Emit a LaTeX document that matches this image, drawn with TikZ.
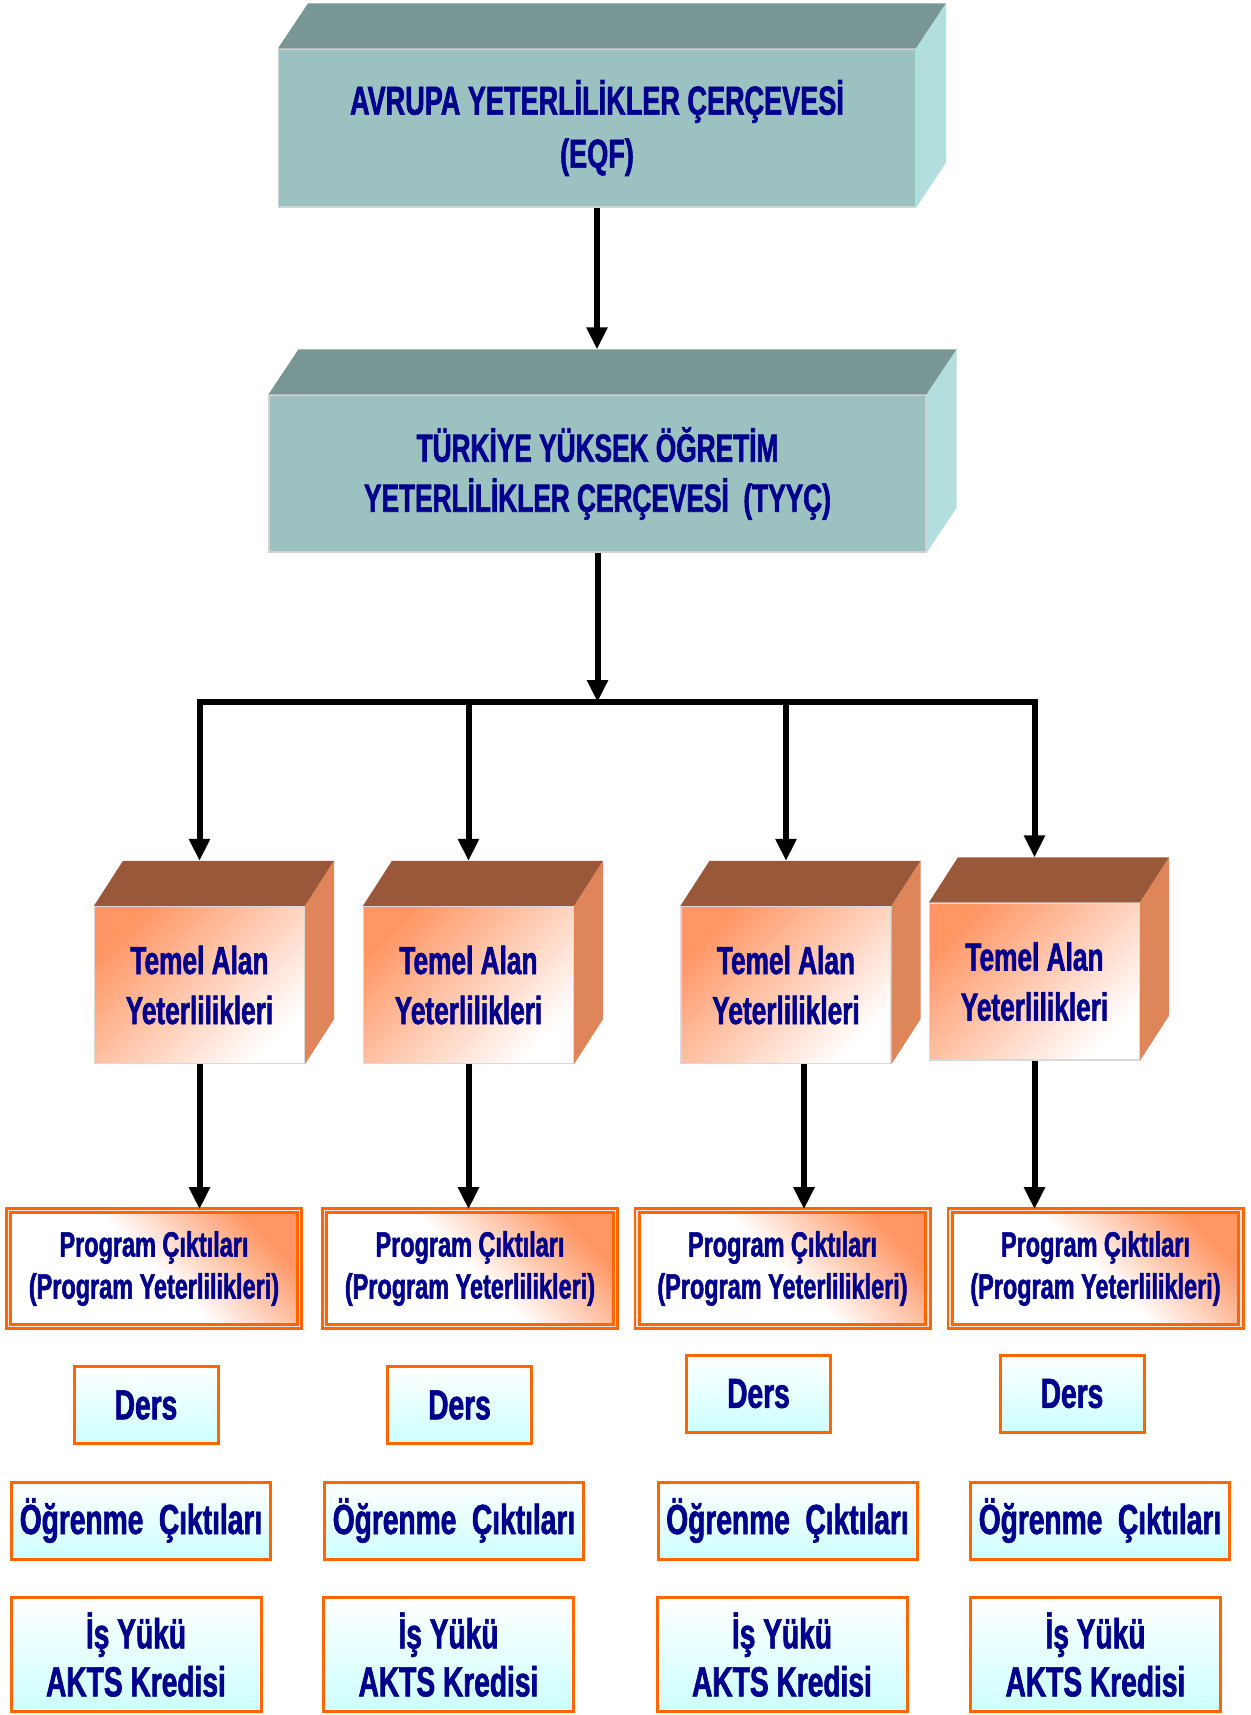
\documentclass[tikz,border=0pt]{standalone}
\usepackage{fontspec}
\setmainfont{Liberation Sans}[FakeStretch=0.67, BoldFeatures={FakeBold=1.5}]
\usetikzlibrary{arrows.meta}

\definecolor{navytext}{RGB}{0,0,140}
\definecolor{tealfront}{RGB}{155,194,193}
\definecolor{tealtop}{RGB}{120,150,148}
\definecolor{tealside}{RGB}{178,223,222}
\definecolor{browntop}{RGB}{154,88,58}
\definecolor{orangeside}{RGB}{222,133,90}
\definecolor{orangefront}{RGB}{255,150,100}
\definecolor{boxorange}{RGB}{255,102,0}
\definecolor{lightcyan}{RGB}{204,255,255}

\tikzset{
  arr/.style={line width=3pt,-{Triangle[width=10pt,length=11pt]}},
  boxtext/.style={inner sep=0pt, align=center, text=navytext},
  tealbox/.style={boxtext, rectangle, fill=tealfront, draw=gray!35, line width=0.6pt},
  temelbox/.style={boxtext, rectangle, draw=gray!30, line width=0.6pt,
    top color=orangefront, bottom color=white, shading angle=45,
    minimum width=105pt, minimum height=78.5pt,
    font=\bfseries\fontsize{19.6}{25}\selectfont},
  progbox/.style={boxtext, rectangle, draw=boxorange, line width=1.4pt,
    double=gray!20, double distance=0.8pt,
    top color=orangefront, bottom color=white, middle color=white, shading angle=-45,
    minimum width=145.4pt, minimum height=57.9pt,
    font=\bfseries\fontsize{17.5}{21}\selectfont},
  cyanbox/.style={boxtext, rectangle, draw=boxorange, line width=1.5pt,
    top color=white, bottom color=lightcyan,
    font=\bfseries\fontsize{21}{24}\selectfont},
  dersbox/.style={cyanbox, minimum width=72pt, minimum height=38.5pt},
  ogrbox/.style={cyanbox, minimum width=129.5pt, minimum height=38.5pt},
  yukbox/.style={cyanbox, minimum width=125pt, minimum height=57pt}
}

\begin{document}
\begin{tikzpicture}[x=0.5pt,y=-0.5pt]
    \useasboundingbox (0,0) rectangle (1250,1715);

    \draw (597,128) node[tealbox, minimum width=318.5pt, minimum height=79pt,
        font=\bfseries\fontsize{20.2}{26.5}\selectfont] (eqf)
        {AVRUPA YETERLİLİKLER ÇERÇEVESİ\\(EQF)};
    \draw (597.5,473.5) node[tealbox, minimum width=328.5pt, minimum height=78.5pt,
        font=\bfseries\fontsize{19.6}{25}\selectfont] (tyyc)
        {TÜRKİYE YÜKSEK ÖĞRETİM\\YETERLİLİKLER ÇERÇEVESİ\ \ (TYYÇ)};
    \foreach \n in {eqf,tyyc} {
        \fill[tealtop] (\n.north west) -- ++(30,-45) -- ([shift={(30,-45)}]\n.north east) -- (\n.north east) -- cycle;
        \fill[tealside] (\n.north east) -- ++(30,-45) -- ([shift={(30,-45)}]\n.south east) -- (\n.south east) -- cycle;
    }

    \draw (199.5,985) node[temelbox] (tem1) {Temel Alan\\Yeterlilikleri};
    \draw (468.5,985) node[temelbox] (tem2) {Temel Alan\\Yeterlilikleri};
    \draw (786,985) node[temelbox] (tem3) {Temel Alan\\Yeterlilikleri};
    \draw (1034.5,981.5) node[temelbox] (tem4) {Temel Alan\\Yeterlilikleri};
    \foreach \n in {tem1,tem2,tem3,tem4} {
        \fill[browntop] (\n.north west) -- ++(29,-45) -- ([shift={(29,-45)}]\n.north east) -- (\n.north east) -- cycle;
        \fill[orangeside] (\n.north east) -- ++(29,-45) -- ([shift={(29,-45)}]\n.south east) -- (\n.south east) -- cycle;
    }

    \draw (154,1268.5) node[progbox] (prog1) {Program Çıktıları\\(Program Yeterlilikleri)};
    \draw (470,1268.5) node[progbox] (prog2) {Program Çıktıları\\(Program Yeterlilikleri)};
    \draw (782.5,1268.5) node[progbox] (prog3) {Program Çıktıları\\(Program Yeterlilikleri)};
    \draw (1095.5,1268.5) node[progbox] (prog4) {Program Çıktıları\\(Program Yeterlilikleri)};

    \draw (146,1405) node[dersbox] (ders1) {Ders};
    \draw (459.5,1405) node[dersbox] (ders2) {Ders};
    \draw (758.5,1393.5) node[dersbox] (ders3) {Ders};
    \draw (1072,1393.5) node[dersbox] (ders4) {Ders};

    \draw (141,1520.5) node[ogrbox] (ogr1) {Öğrenme\ \ Çıktıları};
    \draw (454,1520.5) node[ogrbox] (ogr2) {Öğrenme\ \ Çıktıları};
    \draw (787.5,1520.5) node[ogrbox] (ogr3) {Öğrenme\ \ Çıktıları};
    \draw (1100,1520.5) node[ogrbox] (ogr4) {Öğrenme\ \ Çıktıları};

    \draw (136,1654.5) node[yukbox] (yuk1) {İş Yükü\\AKTS Kredisi};
    \draw (448.5,1654.5) node[yukbox] (yuk2) {İş Yükü\\AKTS Kredisi};
    \draw (782,1654.5) node[yukbox] (yuk3) {İş Yükü\\AKTS Kredisi};
    \draw (1095.5,1654.5) node[yukbox] (yuk4) {İş Yükü\\AKTS Kredisi};

    \coordinate (tyyctop) at ([yshift=22.5pt]tyyc.north);
    \coordinate (bar) at (597.5,702);
    \draw[arr] (eqf.south) -- (eqf.south |- tyyctop);
    \draw[arr] (tyyc.south) -- (tyyc.south |- bar);
    \draw[line width=3pt, line cap=rect] (tem1.north |- bar) -- (tem4.north |- bar);
    \foreach \n in {tem1,tem2,tem3,tem4}
        \draw[arr] (\n.north |- bar) -- ([yshift=22.5pt]\n.north);

    \draw[arr] (tem1.south) -- (tem1.south |- prog1.north);
    \draw[arr] (tem2.south) -- (tem2.south |- prog2.north);
    \draw[arr] ([xshift=9pt]tem3.south) -- ([xshift=9pt]tem3.south |- prog3.north);
    \draw[arr] (tem4.south) -- (tem4.south |- prog4.north);
\end{tikzpicture}
\end{document}
